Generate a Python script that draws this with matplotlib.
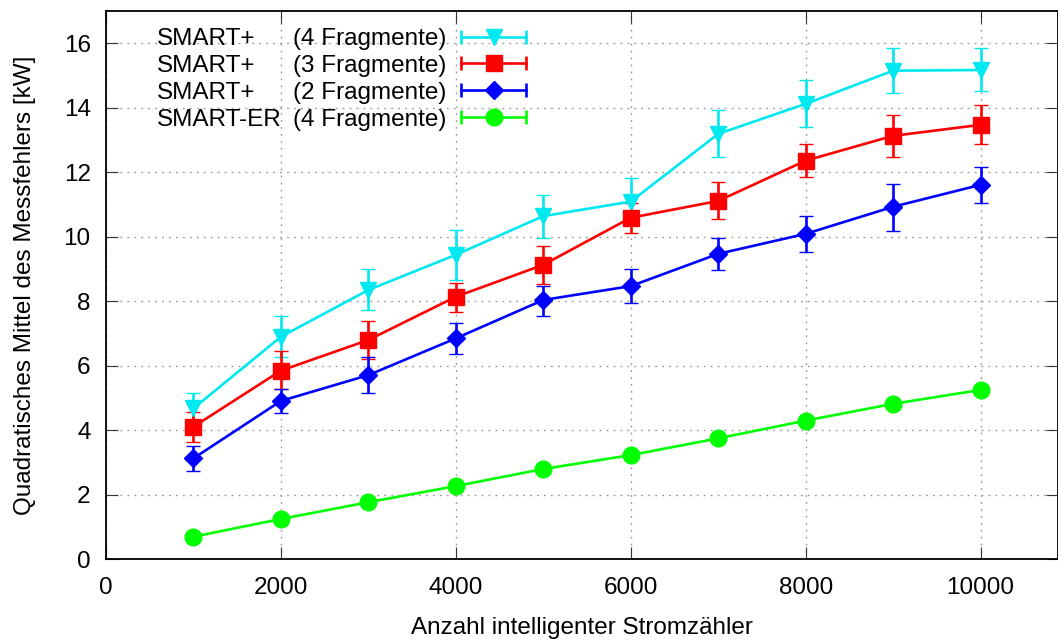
import matplotlib
matplotlib.use("Agg")
import matplotlib.pyplot as plt
from matplotlib.lines import Line2D
from matplotlib.legend_handler import HandlerLine2D, HandlerTuple
import numpy as np

plt.rcParams['font.family'] = ['Liberation Sans', 'DejaVu Sans']

# ---------------- data ----------------
x = [1000, 2000, 3000, 4000, 5000, 6000, 7000, 8000, 9000, 10000]

names = ["SMART+", "SMART+", "SMART+", "SMART-ER"]
frags = ["(4 Fragmente)", "(3 Fragmente)", "(2 Fragmente)", "(4 Fragmente)"]

y4 = [4.68, 6.90, 8.35, 9.44, 10.64, 11.09, 13.19, 14.12, 15.15, 15.17]
lo4 = [4.20, 6.26, 7.72, 8.66, 9.95, 10.40, 12.48, 13.39, 14.45, 14.53]
hi4 = [5.16, 7.55, 9.00, 10.21, 11.28, 11.83, 13.93, 14.86, 15.84, 15.86]

y3 = [4.11, 5.85, 6.80, 8.14, 9.13, 10.59, 11.11, 12.36, 13.13, 13.47]
lo3 = [3.64, 5.27, 6.21, 7.68, 8.54, 10.11, 10.54, 11.84, 12.48, 12.87]
hi3 = [4.58, 6.47, 7.40, 8.58, 9.72, 11.06, 11.69, 12.87, 13.78, 14.09]

y2 = [3.13, 4.91, 5.71, 6.85, 8.04, 8.47, 9.47, 10.09, 10.93, 11.61]
lo2 = [2.75, 4.53, 5.17, 6.37, 7.55, 7.94, 8.97, 9.54, 10.19, 11.06]
hi2 = [3.52, 5.27, 6.26, 7.34, 8.47, 9.00, 9.97, 10.64, 11.64, 12.15]

yer = [0.70, 1.25, 1.77, 2.27, 2.80, 3.23, 3.75, 4.30, 4.82, 5.25]
loer = [0.68, 1.23, 1.75, 2.25, 2.78, 3.21, 3.73, 4.28, 4.80, 5.23]
hier = [0.72, 1.27, 1.79, 2.29, 2.82, 3.25, 3.77, 4.32, 4.84, 5.27]

xticks = [0, 2000, 4000, 6000, 8000, 10000]
yticks = [0, 2, 4, 6, 8, 10, 12, 14, 16]

series = [
    (y4, lo4, hi4, '#00e8f0', 'v', 12.0),
    (y3, lo3, hi3, '#ff0000', 's', 11.5),
    (y2, lo2, hi2, '#0000ff', 'D', 9.4),
    (yer, loer, hier, '#00ff00', 'o', 12.0),
]

# ---------------- figure ----------------
W, H = 1058, 641
fig = plt.figure(figsize=(W / 100, H / 100), dpi=100)
ax = fig.add_axes([106 / W, 1 - 559.3 / H, (1057.5 - 106) / W, (559.3 - 11) / H])

FS = 17.5
LW = 1.9

handles = []
hmap = {}
for (yv, lo, hi, col, mk, ms) in series:
    yv = np.asarray(yv); lo = np.asarray(lo); hi = np.asarray(hi)
    ax.errorbar(x, yv, yerr=[yv - lo, hi - yv], color=col, lw=LW,
                marker=mk, ms=ms, mec=col, mfc=col, mew=1,
                elinewidth=LW, capsize=4.8, capthick=LW, zorder=3)
    cap = Line2D([], [], color=col, lw=LW, marker='|', ms=9.5, mew=LW)
    mark = Line2D([], [], color=col, lw=0, ls='none', marker=mk, ms=ms,
                  mec=col, mfc=col, mew=1)
    hmap[cap] = HandlerLine2D(numpoints=2, marker_pad=0)
    hmap[mark] = HandlerLine2D(numpoints=1)
    handles.append((cap, mark))
hmap[tuple] = HandlerTuple(ndivide=1)

ax.set_xlim(0, 10880)
ax.set_ylim(0, 17)
ax.set_xticks(xticks)
ax.set_yticks(yticks)
ax.tick_params(axis='both', direction='in', length=8.6, width=0.8,
               top=True, right=True, labelsize=FS, color='#333333')
ax.tick_params(axis='x', pad=13)
ax.tick_params(axis='y', pad=11)
for s in ax.spines.values():
    s.set_linewidth(1.3)
ax.grid(True, color='#a0a0a0', lw=1.0, dashes=(1.4, 3.6), zorder=0)
ax.set_axisbelow(True)

ax.set_xlabel("Anzahl intelligenter Stromzähler", fontsize=FS, labelpad=13)
ax.set_ylabel("Quadratisches Mittel des Messfehlers [kW]", fontsize=FS, labelpad=20)

leg = ax.legend(handles, frags, handler_map=hmap, loc='upper left',
                bbox_to_anchor=(292.7 / W, 1 - 28 / H),
                bbox_transform=fig.transFigure, frameon=False,
                markerfirst=False, fontsize=FS, borderpad=0, borderaxespad=0,
                handlelength=2.67, handletextpad=0.62, labelspacing=0.2)

fig.canvas.draw()
for t, nm in zip(leg.get_texts(), names):
    bb = t.get_window_extent()
    fig.text(157 / W, bb.y0 / H, nm, fontsize=FS, ha='left', va='bottom')

fig.savefig("out.png", dpi=100)
